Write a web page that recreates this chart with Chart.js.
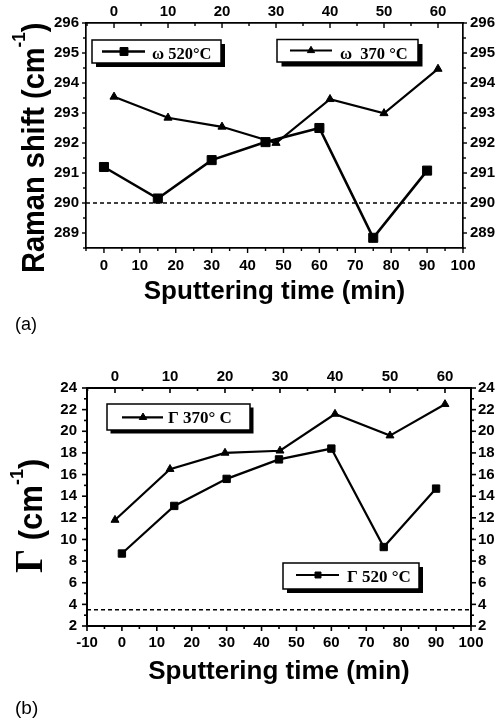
<!DOCTYPE html>
<html>
<head>
<meta charset="utf-8">
<title>Raman shift and linewidth versus sputtering time</title>
<script src="https://cdn.jsdelivr.net/npm/chart.js@4.4.1/dist/chart.umd.min.js"></script>
<style>
  html, body { margin: 0; padding: 0; background: #fff; }
  body { width: 500px; height: 722px; position: relative; overflow: hidden; }
  canvas { position: absolute; left: 0; }
  #panelA { top: 0; }
  #panelB { top: 360px; }
</style>
</head>
<body>
<canvas id="panelA" width="500" height="340"></canvas>
<canvas id="panelB" width="500" height="362"></canvas>
<script>
// ---- data -------------------------------------------------------------
// Sputtering time (min): bottom-axis points and top-axis points
const timeBottom = [0, 15, 30, 45, 60, 75, 90];
const timeTop = [0, 10, 20, 30, 40, 50, 60];

// (a) Raman shift ω (cm-1)
const omega520 = [291.2, 290.15, 291.43, 292.03, 292.5, 288.84, 291.08];
const omega370 = [293.54, 292.84, 292.54, 292.0, 293.46, 292.99, 294.47];
const omegaRef = 290;

// (b) linewidth Γ (cm-1)
const gamma370 = [11.8, 16.5, 18.0, 18.2, 21.6, 19.6, 22.5];
const gamma520 = [8.7, 13.1, 15.6, 17.4, 18.4, 9.3, 14.7];
const gammaRef = 3.5;

// tick labels
const ticksBottomA = [0, 10, 20, 30, 40, 50, 60, 70, 80, 90, 100];
const ticksBottomB = [-10, 0, 10, 20, 30, 40, 50, 60, 70, 80, 90, 100];
const ticksTop = [0, 10, 20, 30, 40, 50, 60];
const ticksOmega = [289, 290, 291, 292, 293, 294, 295, 296];
const ticksGamma = [2, 4, 6, 8, 10, 12, 14, 16, 18, 20, 22, 24];

// axis ranges
const rangeA = { x: [-5, 100], x2: [-5.19, 64.63], y: [288.5, 296] };
const rangeB = { x: [-10, 100], x2: [-5.09, 64.73], y: [2, 24] };

// ---- helpers ----------------------------------------------------------
const SANS = '"Liberation Sans", Arial, Helvetica, sans-serif';
const SERIF = '"Liberation Serif", "Times New Roman", Times, serif';

const pairs = (xs, ys) => xs.map((x, i) => ({ x, y: ys[i] }));

function axis(position, range, tickValues, size, pad, borderWidth) {
  const horizontal = position === 'top' || position === 'bottom';
  return {
    type: 'linear',
    position,
    min: range[0],
    max: range[1],
    grid: { display: false, drawTicks: false },
    border: { display: true, color: '#000', width: borderWidth },
    ticks: {
      color: '#000',
      font: { family: SANS, size: 15, weight: 'bold' },
      padding: pad,
      autoSkip: false,
      maxRotation: 0,
      minRotation: 0
    },
    afterBuildTicks: s => { s.ticks = tickValues.map(v => ({ value: v })); },
    afterFit: s => { if (horizontal) s.height = size; else s.width = size; }
  };
}

// major / minor tick marks on all four sides
const tickMarks = {
  id: 'tickMarks',
  afterDraw(chart, args, opts) {
    const ctx = chart.ctx;
    const a = chart.chartArea;
    ctx.save();
    ctx.strokeStyle = '#000';
    ctx.lineWidth = opts.lineWidth;
    for (const spec of opts.axes) {
      const s = chart.scales[spec.id];
      const marks = s.ticks.map(t => [t.value, spec.major]);
      const step = spec.minorStep;
      for (let k = Math.ceil(s.min / step - 1e-9); k * step <= s.max + 1e-9; k++) {
        const v = k * step;
        if (!s.ticks.some(t => Math.abs(t.value - v) < 1e-6)) marks.push([v, spec.minor]);
      }
      const dir = spec.inward ? -1 : 1;
      for (const [v, len] of marks) {
        const p = s.getPixelForValue(v);
        ctx.beginPath();
        if (s.position === 'bottom') { ctx.moveTo(p, a.bottom); ctx.lineTo(p, a.bottom + dir * len); }
        else if (s.position === 'top') { ctx.moveTo(p, a.top); ctx.lineTo(p, a.top - dir * len); }
        else if (s.position === 'left') { ctx.moveTo(a.left, p); ctx.lineTo(a.left - dir * len, p); }
        else { ctx.moveTo(a.right, p); ctx.lineTo(a.right + dir * len, p); }
        ctx.stroke();
      }
    }
    ctx.restore();
  }
};

function marker(ctx, style, r, x, y) {
  if (Chart.helpers && Chart.helpers.drawPoint) {
    Chart.helpers.drawPoint(ctx, { pointStyle: style, radius: r, rotation: 0, borderWidth: 1 }, x, y);
    return;
  }
  ctx.beginPath();
  if (style === 'rect') {
    const h = r * Math.SQRT1_2;
    ctx.rect(x - h, y - h, 2 * h, 2 * h);
  } else {
    for (let i = 0; i < 3; i++) {
      const t = i * 2 * Math.PI / 3;
      ctx.lineTo(x + Math.sin(t) * r, y - Math.cos(t) * r);
    }
    ctx.closePath();
  }
  ctx.fill();
  ctx.stroke();
}

// framed legend boxes with a drop shadow
const legendBoxes = {
  id: 'legendBoxes',
  afterDraw(chart, args, opts) {
    const ctx = chart.ctx;
    ctx.save();
    for (const it of opts.items) {
      const ds = chart.data.datasets[it.ds];
      const [bx, by, bw, bh] = it.box;
      ctx.fillStyle = '#000';
      ctx.fillRect(bx + it.shadow, by + it.shadow, bw, bh);
      ctx.fillStyle = '#fff';
      ctx.fillRect(bx, by, bw, bh);
      ctx.strokeStyle = '#000';
      ctx.lineWidth = 1.5;
      ctx.strokeRect(bx, by, bw, bh);
      ctx.lineWidth = it.lineWidth;
      ctx.beginPath();
      ctx.moveTo(it.line[0], it.line[2]);
      ctx.lineTo(it.line[1], it.line[2]);
      ctx.stroke();
      ctx.fillStyle = '#000';
      ctx.lineWidth = 1;
      marker(ctx, ds.pointStyle, it.radius, it.markerX, it.line[2]);
      ctx.font = it.font;
      ctx.textAlign = 'left';
      ctx.textBaseline = 'alphabetic';
      ctx.fillText(ds.label, it.textX, it.textY);
    }
    ctx.restore();
  }
};

// axis titles and panel tags, with superscripts
const titles = {
  id: 'titles',
  afterDraw(chart, args, opts) {
    const ctx = chart.ctx;
    for (const t of opts.items) {
      ctx.save();
      ctx.fillStyle = '#000';
      ctx.textAlign = 'left';
      ctx.textBaseline = 'alphabetic';
      let total = 0;
      for (const r of t.runs) { ctx.font = r.font; total += ctx.measureText(r.text).width; }
      ctx.translate(t.x, t.y);
      if (t.vertical) { ctx.scale(t.sx || 1, 1); ctx.rotate(-Math.PI / 2); }
      let x = t.center ? -total / 2 : 0;
      for (const r of t.runs) {
        ctx.font = r.font;
        ctx.fillText(r.text, x, r.dy || 0);
        x += ctx.measureText(r.text).width;
      }
      ctx.restore();
    }
  }
};

function lineSet(label, data, xAxisID, style, radius, width) {
  return {
    label, data, xAxisID, yAxisID: 'y',
    borderColor: '#000', backgroundColor: '#000',
    pointBackgroundColor: '#000', pointBorderColor: '#000',
    borderWidth: width, pointStyle: style, pointRadius: radius,
    pointBorderWidth: 1, tension: 0
  };
}

function refSet(range, value) {
  return {
    label: 'ref', data: [{ x: range[0], y: value }, { x: range[1], y: value }],
    xAxisID: 'x', yAxisID: 'y', borderColor: '#000', borderWidth: 1.3,
    borderDash: [4, 3], pointRadius: 0
  };
}

const common = {
  responsive: false,
  animation: false,
  events: [],
  layout: { padding: 0 }
};

// ---- panel (a) --------------------------------------------------------
new Chart(document.getElementById('panelA'), {
  type: 'line',
  data: {
    datasets: [
      lineSet('ω 520°C', pairs(timeBottom, omega520), 'x', 'rect', 6.4, 2.6),
      lineSet('ω  370 °C', pairs(timeTop, omega370), 'x2', 'triangle', 4.7, 2.2),
      refSet(rangeA.x, omegaRef)
    ]
  },
  options: Object.assign({}, common, {
    scales: {
      x: axis('bottom', rangeA.x, ticksBottomA, 92, 9, 1.7),
      x2: axis('top', rangeA.x2, ticksTop, 23, 2, 1.7),
      y: axis('left', rangeA.y, ticksOmega, 86, 7, 1.7),
      y2: axis('right', rangeA.y, ticksOmega, 37, 7, 1.7)
    },
    plugins: {
      legend: { display: false },
      tooltip: { enabled: false },
      tickMarks: {
        lineWidth: 1.4,
        axes: [
          { id: 'x', major: 5, minor: 3, minorStep: 5 },
          { id: 'x2', major: 5, minor: 3, minorStep: 5, inward: true },
          { id: 'y', major: 4, minor: 3, minorStep: 0.5 },
          { id: 'y2', major: 4, minor: 3, minorStep: 0.5 }
        ]
      },
      legendBoxes: {
        items: [
          { ds: 0, box: [92, 40, 129, 23], shadow: 4, line: [102, 145, 51.5], lineWidth: 2.6,
            markerX: 124, radius: 5.6, textX: 152, textY: 58.5, font: `bold 16.5px ${SERIF}` },
          { ds: 1, box: [277, 39.5, 141, 22.5], shadow: 4.5, line: [290, 332, 50.5], lineWidth: 2.2,
            markerX: 311, radius: 4.2, textX: 340, textY: 59, font: `bold 16.5px ${SERIF}` }
        ]
      },
      titles: {
        items: [
          { x: 43.5, y: 273, vertical: true, sx: 1.05, runs: [
            { text: 'Raman shift (cm', font: `bold 29px ${SANS}` },
            { text: '-1', font: `bold 17px ${SANS}`, dy: -18 },
            { text: ')', font: `bold 29px ${SANS}` } ] },
          { x: 274.5, y: 299, center: true, runs: [
            { text: 'Sputtering time (min)', font: `bold 26px ${SANS}` } ] },
          { x: 15, y: 330, runs: [ { text: '(a)', font: `18px ${SANS}` } ] }
        ]
      }
    }
  }),
  plugins: [tickMarks, legendBoxes, titles]
});

// ---- panel (b) --------------------------------------------------------
new Chart(document.getElementById('panelB'), {
  type: 'line',
  data: {
    datasets: [
      lineSet('Γ 370° C', pairs(timeTop, gamma370), 'x2', 'triangle', 4.6, 2.2),
      lineSet('Γ 520 °C', pairs(timeBottom, gamma520), 'x', 'rect', 5.2, 2.2),
      refSet(rangeB.x, gammaRef)
    ]
  },
  options: Object.assign({}, common, {
    scales: {
      x: axis('bottom', rangeB.x, ticksBottomB, 96, 8, 2),
      x2: axis('top', rangeB.x2, ticksTop, 28, 2, 2),
      y: axis('left', rangeB.y, ticksGamma, 87, 10, 2),
      y2: axis('right', rangeB.y, ticksGamma, 29, 7, 2)
    },
    plugins: {
      legend: { display: false },
      tooltip: { enabled: false },
      tickMarks: {
        lineWidth: 1.6,
        axes: [
          { id: 'x', major: 5, minor: 3, minorStep: 5 },
          { id: 'x2', major: 5, minor: 3, minorStep: 5, inward: true },
          { id: 'y', major: 5, minor: 3, minorStep: 1 },
          { id: 'y2', major: 5, minor: 3, minorStep: 1 }
        ]
      },
      legendBoxes: {
        items: [
          { ds: 0, box: [107, 44, 143, 26], shadow: 3.5, line: [122, 163, 57.3], lineWidth: 2.2,
            markerX: 143, radius: 4.3, textX: 168, textY: 63, font: `bold 17px ${SERIF}` },
          { ds: 1, box: [283, 203, 136, 26], shadow: 4, line: [296, 339, 215], lineWidth: 2.2,
            markerX: 318, radius: 4.2, textX: 347, textY: 221.5, font: `bold 17px ${SERIF}` }
        ]
      },
      titles: {
        items: [
          { x: 42, y: 213, vertical: true, sx: 1.05, runs: [
            { text: 'Γ', font: `bold 38px ${SERIF}` },
            { text: ' (cm', font: `bold 31px ${SANS}` },
            { text: '-1', font: `bold 18px ${SANS}`, dy: -18 },
            { text: ')', font: `bold 31px ${SANS}` } ] },
          { x: 279, y: 319, center: true, runs: [
            { text: 'Sputtering time (min)', font: `bold 26px ${SANS}` } ] },
          { x: 15, y: 353.5, runs: [ { text: '(b)', font: `19px ${SANS}` } ] }
        ]
      }
    }
  }),
  plugins: [tickMarks, legendBoxes, titles]
});
</script>
</body>
</html>
